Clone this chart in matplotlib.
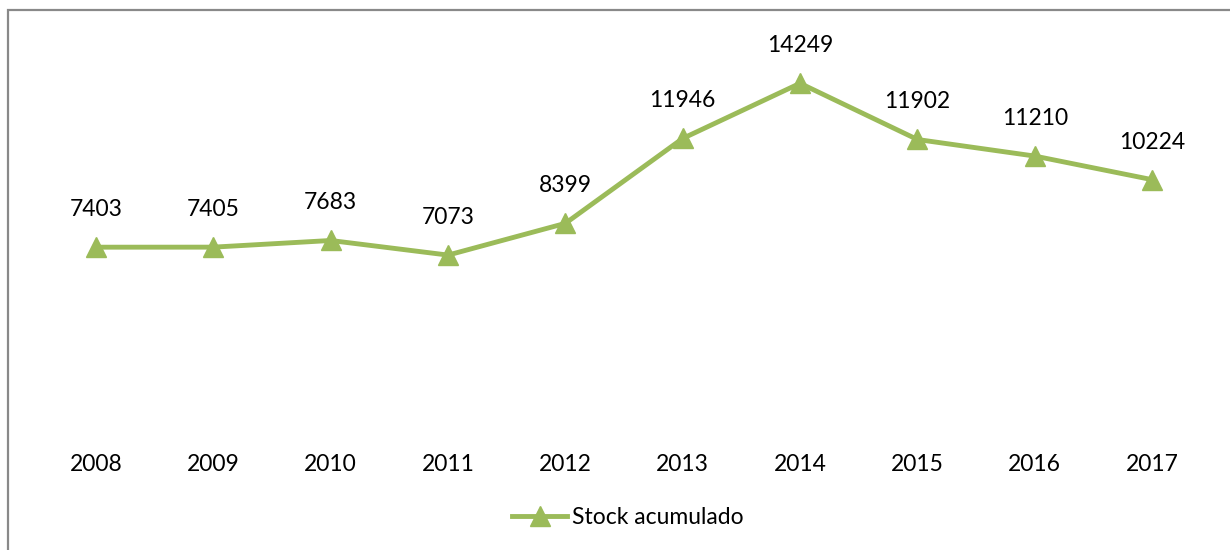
import matplotlib
matplotlib.use("Agg")
import matplotlib.pyplot as plt
from matplotlib.patches import Rectangle

years = ["2008", "2009", "2010", "2011", "2012", "2013", "2014", "2015", "2016", "2017"]
stock = [7403, 7405, 7683, 7073, 8399, 11946, 14249, 11902, 11210, 10224]
series_name = "Stock acumulado"

plt.rcParams['font.family'] = ['Lato', 'DejaVu Sans']
color = "#9BBB59"
fs = 16.5

W, H = 1230, 550
fig = plt.figure(figsize=(W / 100, H / 100), dpi=100)
ax = fig.add_axes([37.4 / W, 1 - 424.4 / H, 1173.3 / W, 383 / H])

x = list(range(len(years)))
ax.plot(x, stock, color=color, lw=3.5, marker="^", markersize=14,
        markeredgecolor=color, markerfacecolor=color, label=series_name,
        solid_joinstyle="round", clip_on=False)
for xi, v in zip(x, stock):
    ax.annotate(str(v), (xi, v), xytext=(0, 27), textcoords="offset points",
                ha="center", va="center", fontsize=fs, color="#000000")

ax.set_xlim(-0.5, len(years) - 0.5)
ax.set_ylim(0, 16000)
ax.set_xticks(x)
ax.set_xticklabels(years, fontsize=fs)
ax.tick_params(axis="x", length=0, pad=21)
ax.set_yticks([])
for s in ax.spines.values():
    s.set_visible(False)

leg = fig.legend(loc="center", bbox_to_anchor=(628 / W, 1 - 518 / H), frameon=False,
                 fontsize=fs, handlelength=2.4, handletextpad=0.2)

fig.patches.append(Rectangle((8 / W, -0.1), 1.2, 1 - 10 / H + 0.1, transform=fig.transFigure,
                             fill=False, edgecolor="#898989", lw=1.6, zorder=0))

fig.savefig("out.png", dpi=100)
